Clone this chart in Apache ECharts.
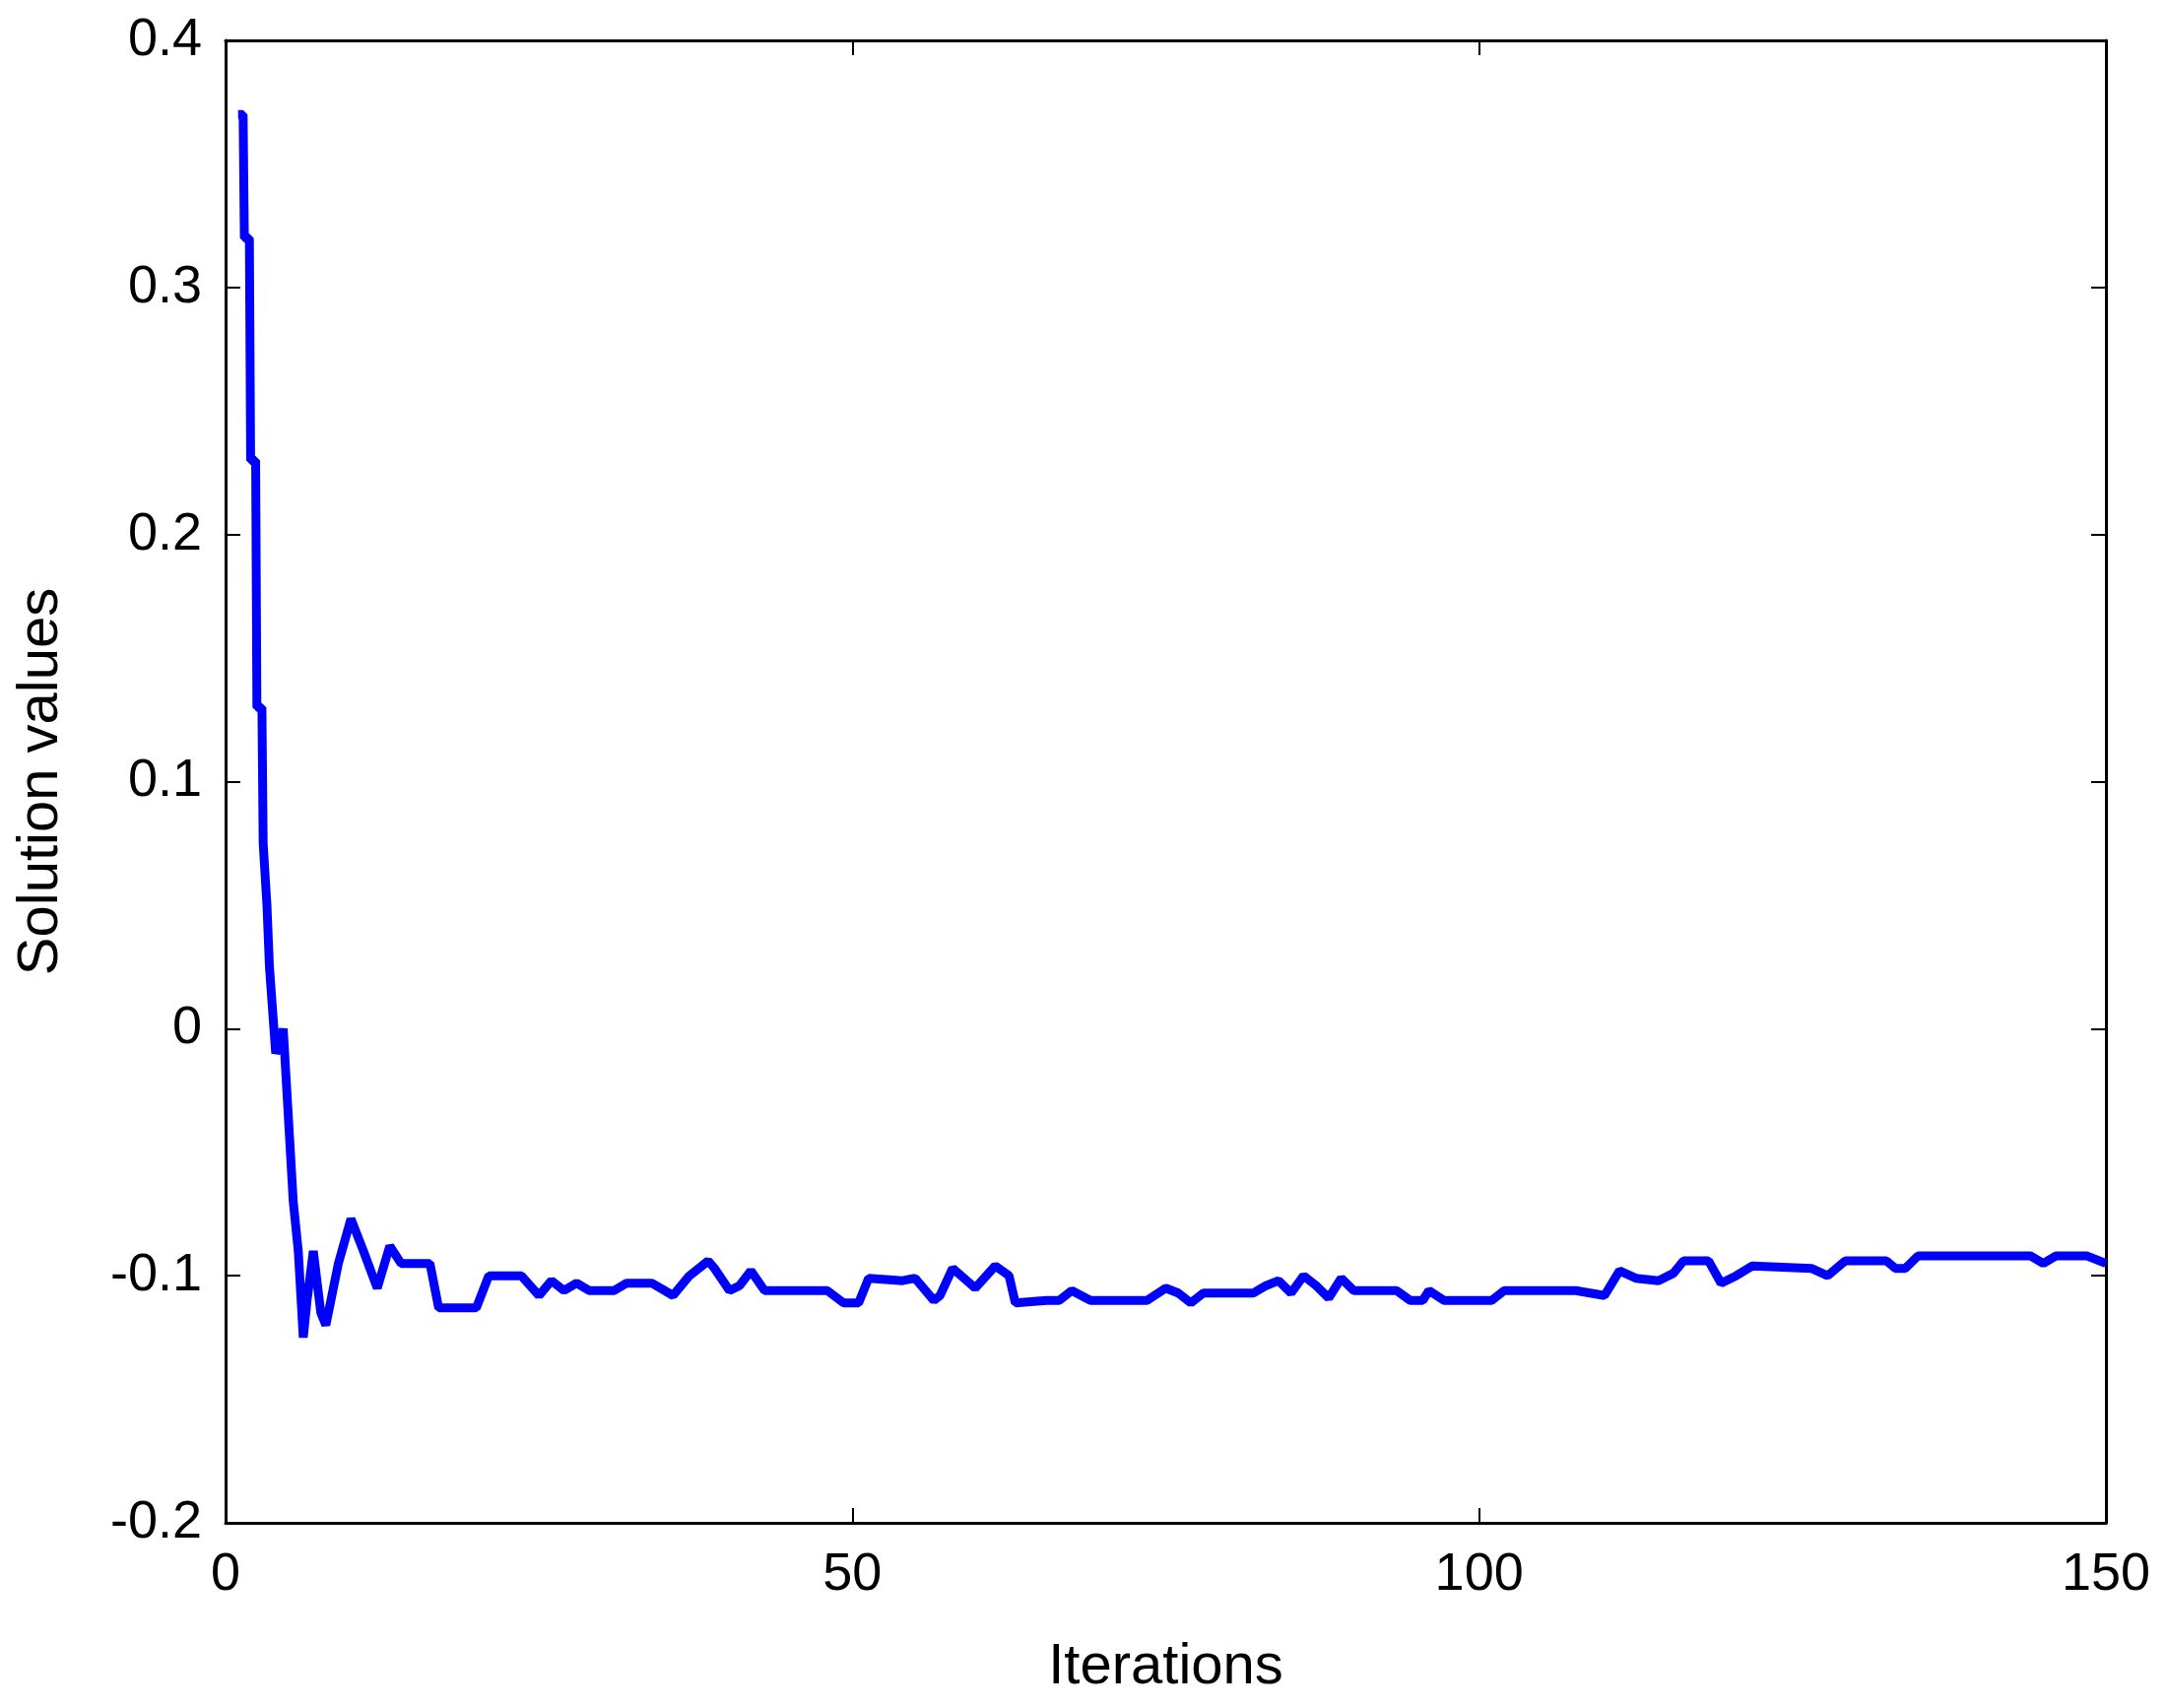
<!DOCTYPE html>
<html lang="en">
<head>
<meta charset="UTF-8">
<title>Solution values</title>
<script src="https://cdn.jsdelivr.net/npm/echarts@6/dist/echarts.min.js"></script>
<style>html,body{margin:0;background:#fff}</style>
</head>
<body>
<div id="main" style="width:2200px;height:1734px;"></div>
<script type="text/javascript">
// iteration positions and solution values
var iters = [1, 1.4, 1.5, 1.9, 2, 2.4, 2.5, 2.9, 3, 3.3, 3.5, 4, 4.4, 4.6, 5, 5.4, 5.8, 6.2, 6.5, 7, 7.6, 8, 9, 10, 11, 12.1, 13.1, 14, 16.3, 17, 20, 21, 23.6, 25, 26, 27, 28, 29, 31, 32, 34, 35.7, 37, 38.5, 39, 40.2, 41, 41.9, 43, 48, 49.3, 50.5, 51.3, 54, 55, 56.5, 57, 58, 59.8, 61.4, 62.5, 63, 65.5, 66.5, 67.5, 69, 73.5, 75, 76, 77, 78, 82, 83, 84, 85, 86, 87, 88, 89, 90, 93.4, 94.5, 95.5, 96, 97.2, 101, 102, 107.7, 110, 111.2, 112.5, 114.3, 115.5, 116.3, 118.3, 119.3, 120.5, 121.8, 126.5, 127.8, 129.2, 132.5, 133.2, 134, 135, 144, 145, 146, 148.5, 150];
var values = [0.37, 0.37, 0.32, 0.32, 0.23, 0.23, 0.13, 0.13, 0.075, 0.05, 0.025, -0.01, -0.005, 0, -0.035, -0.07, -0.09, -0.125, -0.11, -0.09, -0.115, -0.12, -0.095, -0.077, -0.09, -0.105, -0.088, -0.095, -0.095, -0.113, -0.113, -0.1, -0.1, -0.108, -0.102, -0.106, -0.103, -0.106, -0.106, -0.103, -0.103, -0.108, -0.1, -0.094, -0.097, -0.106, -0.104, -0.098, -0.106, -0.106, -0.111, -0.111, -0.101, -0.102, -0.101, -0.11, -0.108, -0.097, -0.105, -0.096, -0.1, -0.111, -0.11, -0.11, -0.106, -0.11, -0.11, -0.105, -0.107, -0.111, -0.107, -0.107, -0.104, -0.102, -0.107, -0.1, -0.104, -0.109, -0.101, -0.106, -0.106, -0.11, -0.11, -0.106, -0.11, -0.11, -0.106, -0.106, -0.108, -0.098, -0.101, -0.102, -0.099, -0.094, -0.094, -0.103, -0.1, -0.096, -0.097, -0.1, -0.094, -0.094, -0.097, -0.097, -0.092, -0.092, -0.095, -0.092, -0.092, -0.095];
var xTicks = [0, 50, 100, 150];
var yTicks = [-0.2, -0.1, 0, 0.1, 0.2, 0.3, 0.4];

var pts = [];
for (var i = 0; i < iters.length; i++) pts.push([iters[i], values[i]]);

var myChart = echarts.init(document.getElementById('main'));
var font = 'Liberation Sans, Arial, sans-serif';
var tick = { show: true, inside: true, length: 15, lineStyle: { color: '#000', width: 2 } };
var line = { show: true, onZero: false, lineStyle: { color: '#000', width: 3 } };

var option = {
    animation: false,
    backgroundColor: '#fff',
    grid: { left: 229, right: 62, top: 41, bottom: 188 },
    xAxis: [{
        type: 'value', min: 0, max: 150, interval: 50,
        name: 'Iterations', nameLocation: 'middle', nameGap: 118,
        nameTextStyle: { fontFamily: font, fontSize: 58, color: '#000' },
        axisLine: line, axisTick: tick, splitLine: { show: false },
        axisLabel: { fontFamily: font, fontSize: 54, color: '#000', margin: 26 }
    }, {
        type: 'value', position: 'top', min: 0, max: 150, interval: 50,
        axisLine: line, axisTick: tick, splitLine: { show: false }, axisLabel: { show: false }
    }],
    yAxis: [{
        type: 'value', min: -0.2, max: 0.4, interval: 0.1,
        name: 'Solution values', nameLocation: 'middle', nameGap: 158,
        nameTextStyle: { fontFamily: font, fontSize: 58, color: '#000' },
        axisLine: line, axisTick: tick, splitLine: { show: false },
        axisLabel: { fontFamily: font, fontSize: 54, color: '#000', margin: 24,
            formatter: function (v) { return String(Math.round(v * 10) / 10); } }
    }, {
        type: 'value', position: 'right', min: -0.2, max: 0.4, interval: 0.1,
        axisLine: line, axisTick: tick, splitLine: { show: false }, axisLabel: { show: false }
    }],
    series: [{
        type: 'line', data: pts, showSymbol: false,
        lineStyle: { color: '#0000ff', width: 9 }
    }]
};
myChart.setOption(option);
</script>
</body>
</html>
